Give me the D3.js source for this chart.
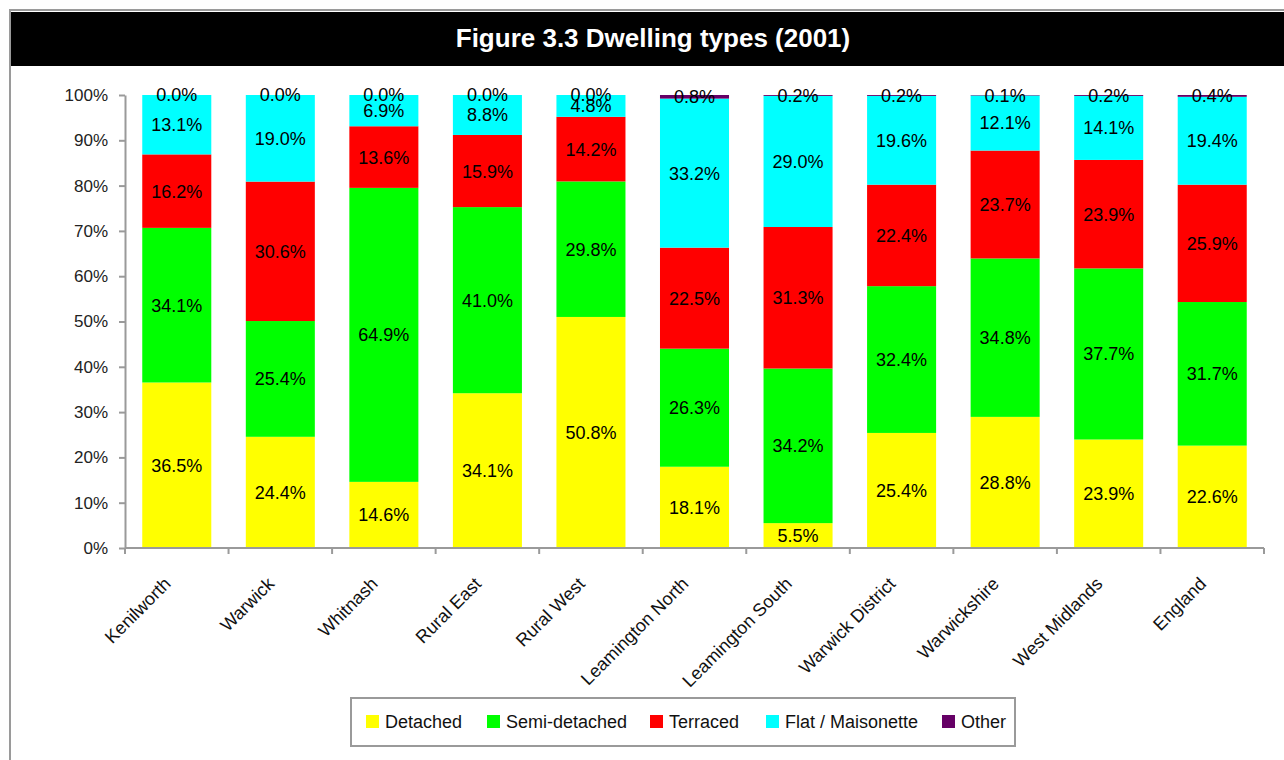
<!DOCTYPE html>
<html><head><meta charset="utf-8">
<script src="https://cdn.jsdelivr.net/npm/d3@7"></script>
<style>
body{margin:0;background:#fff;}
text{font-family:"Liberation Sans",Arial,sans-serif;}
</style></head>
<body><svg id="c" width="1284" height="760"></svg>
<script>
const categories=["Kenilworth","Warwick","Whitnash","Rural East","Rural West","Leamington North","Leamington South","Warwick District","Warwickshire","West Midlands","England"];
const seriesNames=["Detached","Semi-detached","Terraced","Flat / Maisonette","Other"];
const colors=["#FFFF00","#00FF00","#FF0000","#00FFFF","#660066"];
const detached=[36.5,24.4,14.6,34.1,50.8,18.1,5.5,25.4,28.8,23.9,22.6];
const semiDetached=[34.1,25.4,64.9,41.0,29.8,26.3,34.2,32.4,34.8,37.7,31.7];
const terraced=[16.2,30.6,13.6,15.9,14.2,22.5,31.3,22.4,23.7,23.9,25.9];
const flat=[13.1,19.0,6.9,8.8,4.8,33.2,29.0,19.6,12.1,14.1,19.4];
const other=[0.0,0.0,0.0,0.0,0.0,0.8,0.2,0.2,0.1,0.2,0.4];
const yTicks=[0,10,20,30,40,50,60,70,80,90,100];
const title="Figure 3.3 Dwelling types (2001)";

const series=[detached,semiDetached,terraced,flat,other];
const svg=d3.select("#c");
const W=1284,H=760;
// frame
svg.append("path").attr("d","M1284,10 H10 V760").attr("fill","none").attr("stroke","#9a9a9a").attr("stroke-width",2);
svg.append("rect").attr("x",11).attr("y",12).attr("width",W-11).attr("height",54).attr("fill","#000");
svg.append("text").attr("x",653).attr("y",47).attr("text-anchor","middle").attr("fill","#fff")
  .attr("font-weight","bold").attr("font-size",26).text(title);

const m={l:125,r:1264,t:95,b:548};
const x=d3.scaleBand().domain(categories).range([m.l,m.r]).paddingInner(1/3).paddingOuter(1/6);
const y=d3.scaleLinear().domain([0,100]).range([m.b,m.t]);

// build stacked data normalized to 100%
const rows=categories.map((c,i)=>{
  const vals=series.map(s=>s[i]);
  const tot=d3.sum(vals);
  let acc=0;
  return vals.map((v,k)=>{const y0=acc/tot*100; acc+=v; const y1=acc/tot*100; return {c,k,v,y0,y1};});
});
const g=svg.append("g");
rows.forEach(r=>{
  r.forEach(d=>{
    g.append("rect").attr("x",x(d.c)).attr("width",x.bandwidth())
      .attr("y",y(d.y1)).attr("height",Math.max(0,y(d.y0)-y(d.y1))).attr("fill",colors[d.k]);
  });
});
// labels
rows.forEach(r=>{
  r.forEach(d=>{
    g.append("text").attr("x",x(d.c)+x.bandwidth()/2).attr("y",y((d.y0+d.y1)/2)).attr("dy","0.36em")
      .attr("text-anchor","middle").attr("font-size",18).attr("fill","#000").text(d.v.toFixed(1)+"%");
  });
});

// y axis
const yAxis=d3.axisLeft(y).tickValues(yTicks).tickFormat(d=>d+"%").tickSize(6).tickPadding(11).tickSizeOuter(0);
const ya=svg.append("g").attr("transform",`translate(${m.l},0)`).call(yAxis);
ya.selectAll("path,line").attr("stroke","#9a9a9a").attr("stroke-width",2);
ya.selectAll("text").attr("font-size",17).attr("fill","#222").attr("font-family","Liberation Sans, Arial, sans-serif");

// x axis
const xa=svg.append("g").attr("transform",`translate(0,${m.b})`);
xa.append("line").attr("x1",m.l).attr("x2",m.r).attr("stroke","#9a9a9a").attr("stroke-width",2);
const off=(x.step()-x.bandwidth())/2;
const bounds=categories.map(c=>x(c)-off).concat([x(categories[categories.length-1])+x.bandwidth()+off]);
xa.selectAll("line.t").data(bounds).enter().append("line").attr("class","t")
  .attr("x1",d=>d).attr("x2",d=>d).attr("y1",0).attr("y2",6).attr("stroke","#9a9a9a").attr("stroke-width",2);
xa.selectAll("text").data(categories).enter().append("text")
  .attr("transform",d=>`translate(${x(d)+x.bandwidth()/2-5},${37}) rotate(-45)`)
  .attr("text-anchor","end").attr("font-size",18).attr("fill","#111").text(d=>d);

// legend
const lg=svg.append("g");
lg.append("rect").attr("x",351).attr("y",698).attr("width",664).attr("height",48).attr("fill","#fff").attr("stroke","#9a9a9a").attr("stroke-width",2);
const lx=[366,487,650,766,942];
seriesNames.forEach((n,i)=>{
  lg.append("rect").attr("x",lx[i]).attr("y",715).attr("width",13).attr("height",13).attr("fill",colors[i]);
  lg.append("text").attr("x",lx[i]+19).attr("y",728).attr("font-size",18).attr("fill","#111").text(n);
});
</script></body></html>
